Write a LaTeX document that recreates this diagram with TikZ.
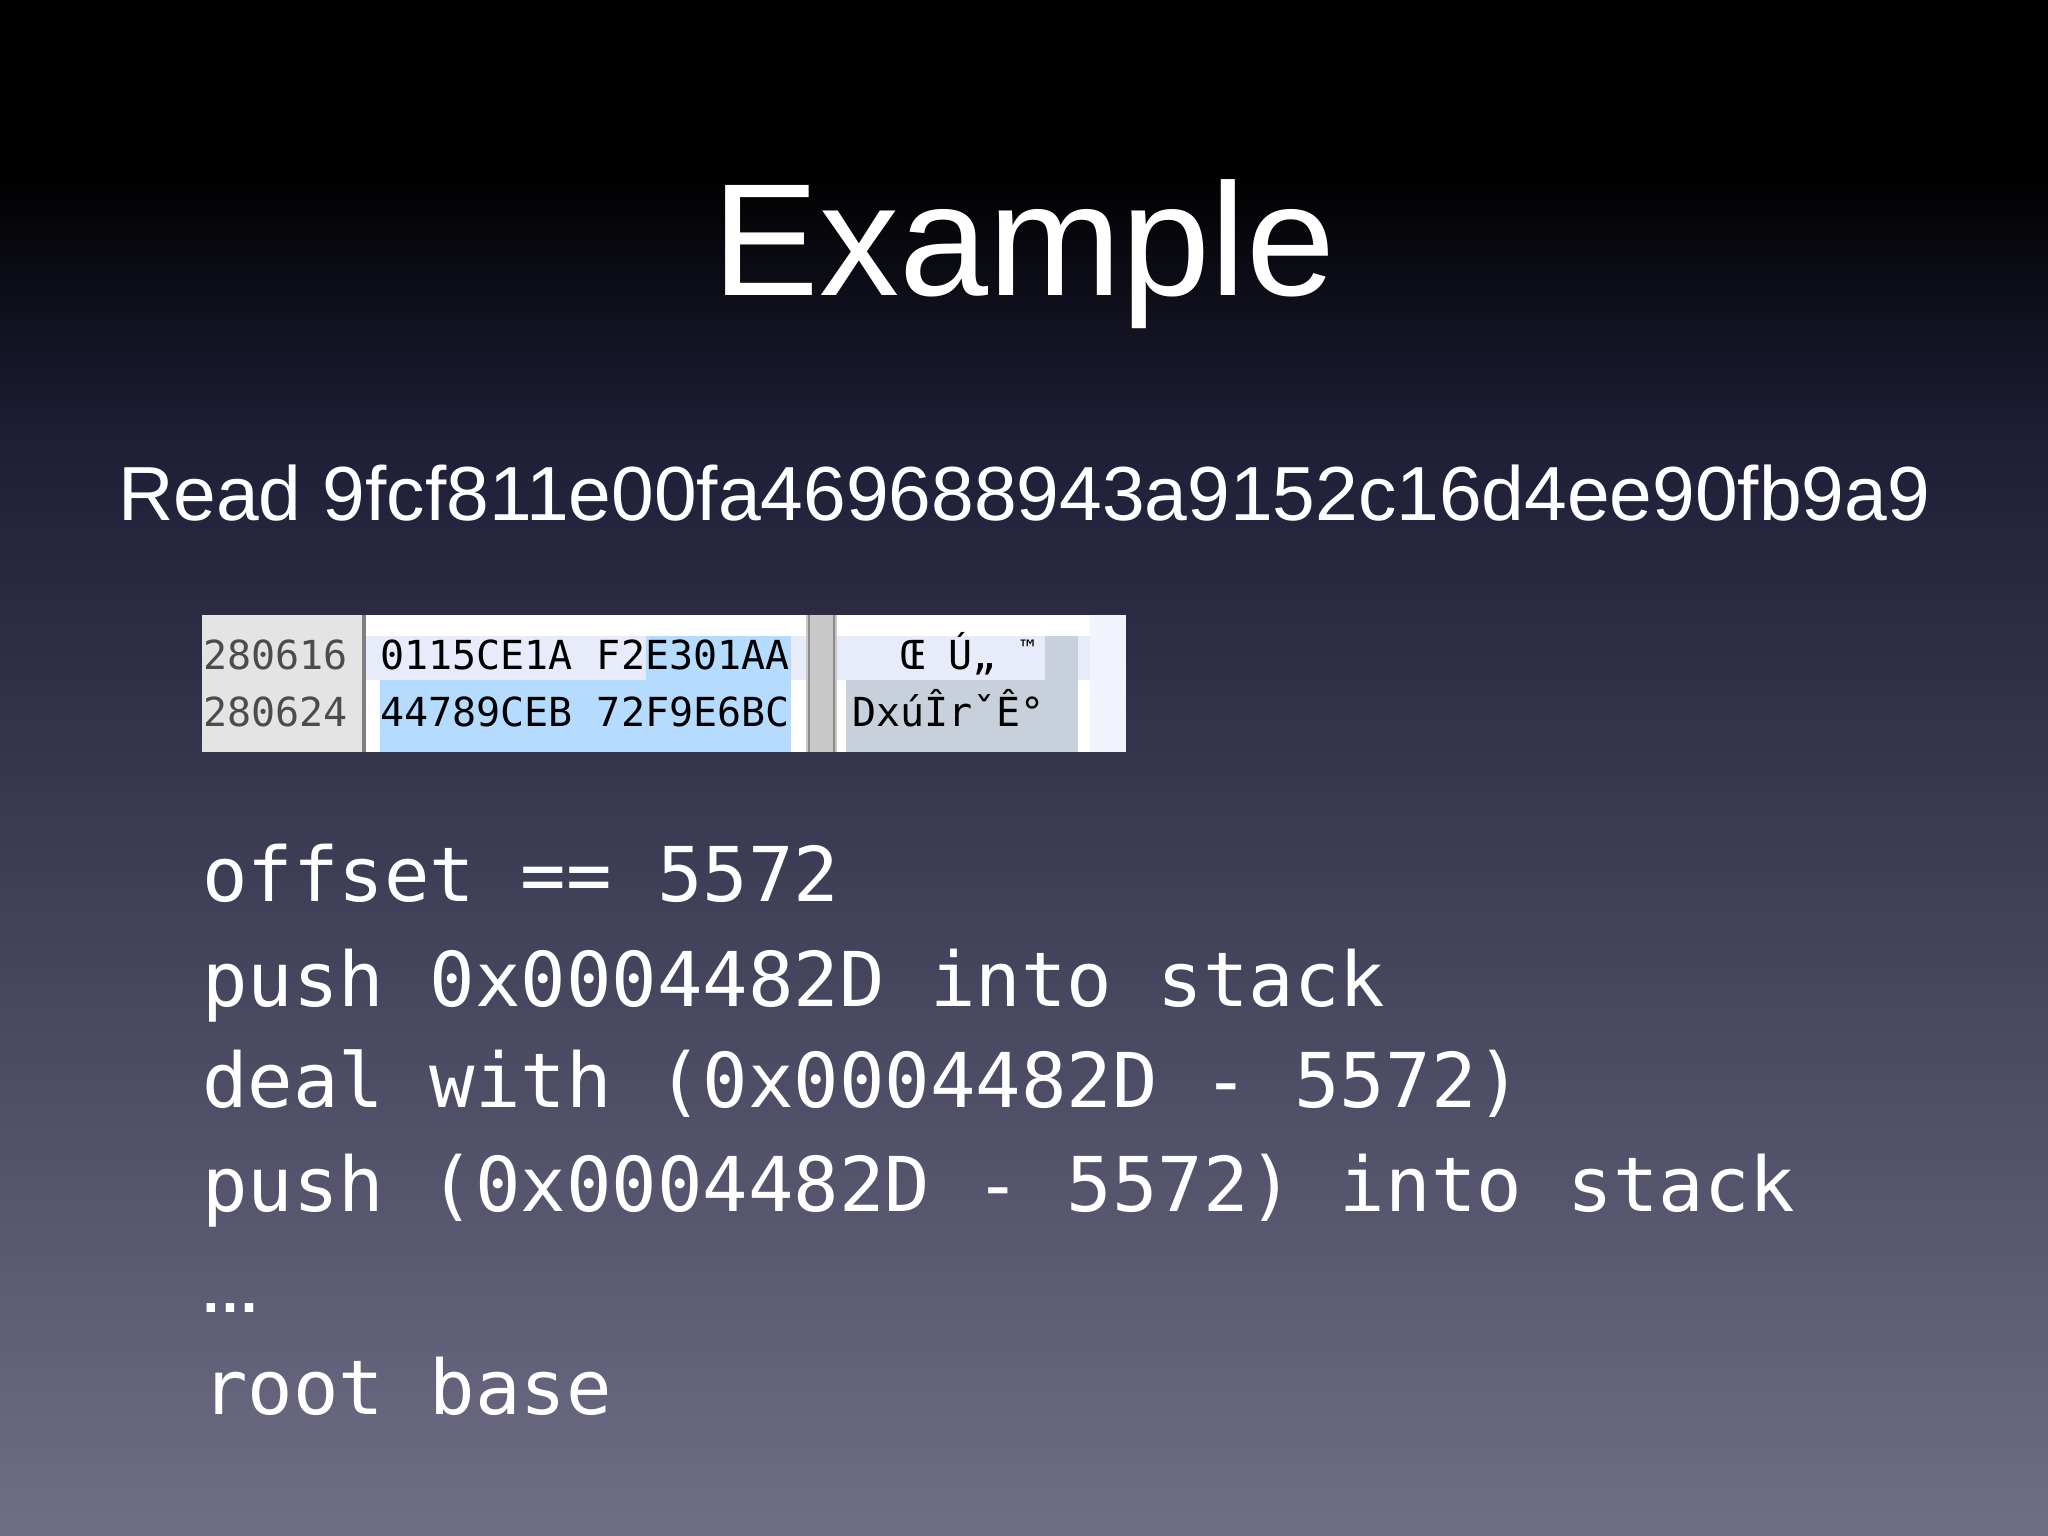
\documentclass[tikz,border=0pt]{standalone}
\usepackage{fontspec}
\setmainfont{Liberation Sans}
\newfontfamily\codefont{DejaVu Sans Mono}
\definecolor{bgtop}{RGB}{0,0,0}
\definecolor{bgmid}{RGB}{30,30,55}
\definecolor{bgbot}{RGB}{112,110,135}
\definecolor{offgrey}{RGB}{228,228,228}
\definecolor{lav}{RGB}{232,236,250}
\definecolor{hiblue}{RGB}{181,219,255}
\definecolor{higrey}{RGB}{200,208,220}
\definecolor{gapgrey}{RGB}{200,200,200}
\tikzset{
  codeline/.style={anchor=base west,inner sep=0pt,text=white,font=\codefont\fontsize{75.6}{80}\selectfont},
  hexline/.style={anchor=base west,inner sep=0pt,text=black,font=\codefont\fontsize{40}{44}\selectfont},
  offline/.style={hexline,text=black!70}
}
\begin{document}
\begin{tikzpicture}[x=1pt,y=-1pt]
\useasboundingbox (0,0) rectangle (2048,1536);
\fill[black] (0,0) rectangle (2048,170);
\shade[top color=black,bottom color=bgmid] (0,170) rectangle (2048,440);
\shade[top color=bgmid,bottom color=bgbot] (0,440) rectangle (2048,1536);
% title
\node[anchor=base,inner sep=0pt,text=white,font=\fontsize{160}{170}\selectfont] (title) at (1024,295) {Example};
\node[anchor=base west,inner sep=0pt,text=white] (read) at (118,520) {\resizebox{1812pt}{!}{\fontsize{78}{80}\selectfont Read 9fcf811e00fa469688943a9152c16d4ee90fb9a9}};
% hex dump picture
\fill[white] (202,615) rectangle (1126,752);
\fill[offgrey] (202,615) rectangle (362,752);
\fill[black!50] (362,615) rectangle (366,752);
\fill[lav] (366,636) rectangle (806,680);
\fill[hiblue] (646,636) rectangle (791,680);
\fill[hiblue] (380,680) rectangle (791,752);
\fill[gapgrey] (806,615) rectangle (837,752);
\draw[black!45,line width=2] (809,615) -- (809,752) (834,615) -- (834,752);
\fill[lav] (837,636) rectangle (1090,680);
\fill[higrey] (1045,636) rectangle (1078,680);
\fill[higrey] (846,680) rectangle (1078,752);
\fill[lav!60] (1090,615) rectangle (1126,752);
\node[offline] (o1) at (203,669) {280616};
\node[offline] (o2) at (203,726) {280624};
\node[hexline] (h1) at (380,669) {0115CE1A F2E301AA};
\node[hexline] (h2) at (380,726) {44789CEB 72F9E6BC};
\node[hexline] (c1) at (900,669) {Œ Ú„ \fontsize{24}{24}\selectfont\raisebox{12pt}{™}};
\node[hexline] (c2) at (852,726) {DxúÎrˇÊ°};
% code lines
\node[codeline] (l1) at (202,901) {offset == 5572};
\node[codeline] (l2) at (202,1006) {push 0x0004482D into stack};
\node[codeline] (l3) at (202,1107) {deal with (0x0004482D - 5572)};
\node[codeline] (l4) at (202,1211) {push (0x0004482D - 5572) into stack};
\node[codeline,font=\bfseries\fontsize{60}{60}\selectfont] (l5) at (200,1312) {…};
\node[codeline] (l6) at (202,1414) {root base};
\end{tikzpicture}
\end{document}
